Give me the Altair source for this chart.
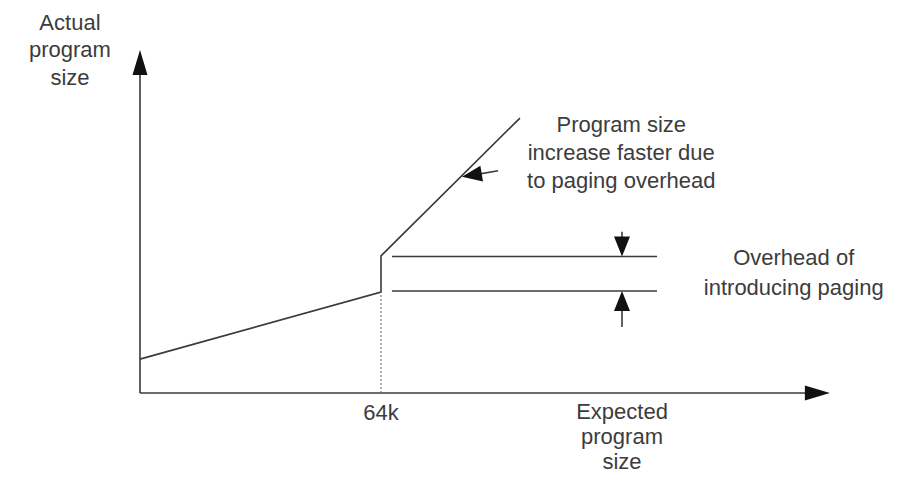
import altair as alt
import pandas as pd

# Units: x in "k" of expected size (64k at 64), y in the same arbitrary units.
X_DOMAIN = [-35.05, 203.15]
Y_DOMAIN = [-21.51, 102.24]

# Program-size curve
curve_x = [0, 64, 64, 100.9]
curve_y = [9.0, 26.8, 36.4, 73.0]

# Straight segments: axes, overhead guide lines, arrow shafts
seg_name = ["y-axis", "x-axis", "over-top", "over-bottom", "shaft-top", "shaft-bottom", "pointer"]
seg_x = [0, 0, 66.9, 66.9, 128, 128, 95.1]
seg_y = [0, 0, 36.25, 27.1, 42.8, 17.5, 59.0]
seg_x2 = [0, 178, 137.3, 137.3, 128, 128, 88.0]
seg_y2 = [86, 0, 36.25, 27.1, 38.0, 25.0, 57.8]

# Dotted marker at 64k
dot_x = [64, 64]
dot_y = [0, 26.8]

# Arrowheads (tip position, direction clockwise from up)
big_head_x = [0, 183.2]
big_head_y = [91.1, 0]
big_head_angle = [0, 90]
small_head_x = [128, 128, 85.5]
small_head_y = [36.25, 27.1, 57.4]
small_head_angle = [180, 0, 260.5]

# Text labels
label_text = [
    "Actual", "program", "size",
    "Expected", "program", "size",
    "64k",
    "Program size", "increase faster due", "to paging overhead",
    "Overhead of", "introducing paging",
]
label_x = [-18.6, -18.6, -18.6, 128.0, 128.0, 128.0, 64, 127.8, 127.8, 127.8, 173.6, 173.6]
label_y = [98.3, 91.0, 83.7, -5.0, -11.8, -18.4, -5.3, 71.3, 63.8, 56.4, 35.8, 27.9]

INK = "#3a3a3a"
BIG_ARROW = "M0,0L0.6,2L-0.6,2Z"
SMALL_ARROW = "M0,0L0.8,2L-0.8,2Z"

xs = alt.Scale(domain=X_DOMAIN, nice=False, zero=False)
ys = alt.Scale(domain=Y_DOMAIN, nice=False, zero=False)
X = lambda f: alt.X(f, type="quantitative", scale=xs, axis=None)
Y = lambda f: alt.Y(f, type="quantitative", scale=ys, axis=None)

curve_df = pd.DataFrame({"x": curve_x, "y": curve_y, "o": list(range(len(curve_x)))})
seg_df = pd.DataFrame({"name": seg_name, "x": seg_x, "y": seg_y, "x2": seg_x2, "y2": seg_y2})
dot_df = pd.DataFrame({"x": dot_x, "y": dot_y})
big_df = pd.DataFrame({"x": big_head_x, "y": big_head_y, "a": big_head_angle})
small_df = pd.DataFrame({"x": small_head_x, "y": small_head_y, "a": small_head_angle})
lab_df = pd.DataFrame({"t": label_text, "x": label_x, "y": label_y})

curve = alt.Chart(curve_df).mark_line(color=INK, strokeWidth=1.6).encode(
    x=X("x"), y=Y("y"), order="o:Q")
segs = alt.Chart(seg_df).mark_rule(color=INK, strokeWidth=1.6).encode(
    x=X("x"), y=Y("y"), x2="x2:Q", y2="y2:Q")
dots = alt.Chart(dot_df).mark_line(color="#777", strokeWidth=1.2, strokeDash=[2, 2]).encode(
    x=X("x"), y=Y("y"))
big = alt.Chart(big_df).mark_point(shape=BIG_ARROW, filled=True, color="#111", size=625, opacity=1, strokeWidth=0).encode(
    x=X("x"), y=Y("y"), angle=alt.Angle("a:Q", scale=None))
small = alt.Chart(small_df).mark_point(shape=SMALL_ARROW, filled=True, color="#111", size=400, opacity=1, strokeWidth=0).encode(
    x=X("x"), y=Y("y"), angle=alt.Angle("a:Q", scale=None))
labels = alt.Chart(lab_df).mark_text(
    font="Liberation Sans", fontSize=22, color="#3c3c3c", align="center", baseline="middle").encode(
    x=X("x"), y=Y("y"), text="t:N")

chart = alt.layer(curve, segs, dots, big, small, labels).properties(
    width=897, height=466, padding=0, background="white",
    autosize=alt.AutoSizeParams(type="none")
).configure_view(strokeWidth=0)

chart.save("out.html", embed_options={"renderer": "svg", "actions": False})
